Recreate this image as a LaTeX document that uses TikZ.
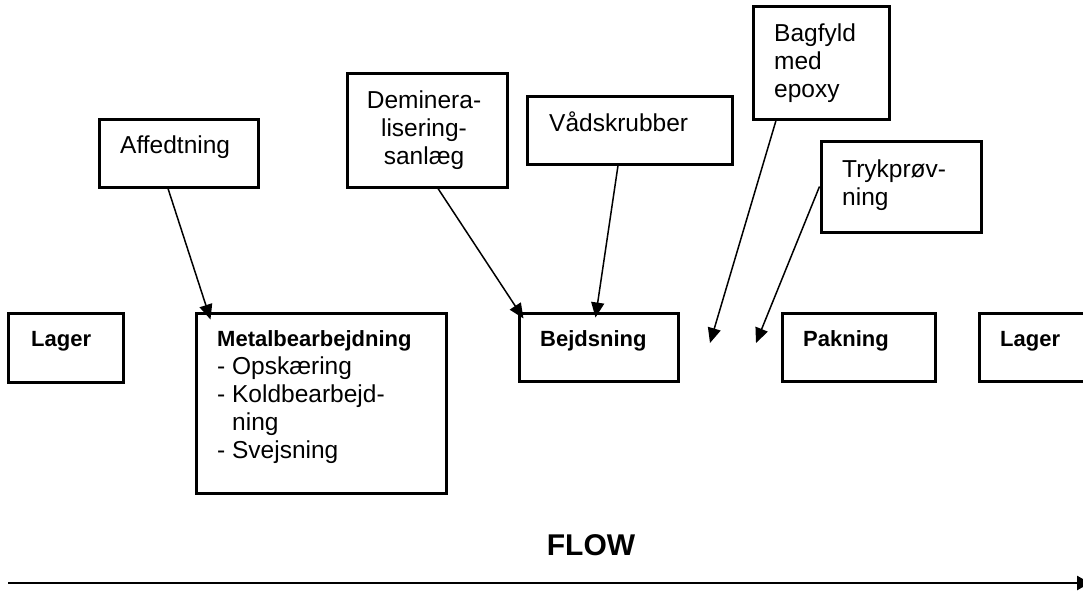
\documentclass[tikz,border=0pt]{standalone}
\usepackage{fontspec}
\setmainfont{Liberation Sans}
\usetikzlibrary{arrows.meta,calc}
\newcommand\tstrut{\rule{0pt}{20pt}}
\begin{document}
\begin{tikzpicture}[x=1pt,y=-1pt,
  box/.style={draw,line width=3pt,inner sep=0pt},
  txt/.style={inner sep=0pt,font=\fontsize{24.5}{28}\selectfont,align=left,anchor=north west},
  btxt/.style={inner sep=0pt,font=\fontsize{22}{28}\selectfont\bfseries,anchor=north west},
  conn/.style={line width=1.5pt,-{Triangle[length=15pt,width=13pt]}},
]
\useasboundingbox (0,0) rectangle (1083,592);
\clip (0,0) rectangle (1083,592);

% boxes
\node[box,minimum width=115pt,minimum height=69pt] (lagerA) at (65.5,347.5) {};
\node[box,minimum width=250pt,minimum height=180pt] (metal) at (321,403) {};
\node[box,minimum width=159pt,minimum height=68pt] (bejd) at (598.5,347) {};
\node[box,minimum width=153pt,minimum height=68pt] (pak) at (858.5,347) {};
\node[box,minimum width=121pt,minimum height=68pt] (lagerB) at (1039.5,347) {};
\node[box,minimum width=159pt,minimum height=68pt] (aff) at (178.5,153) {};
\node[box,minimum width=160pt,minimum height=114pt] (demin) at (427,130) {};
\node[box,minimum width=205pt,minimum height=68pt] (vad) at (629.5,130) {};
\node[box,minimum width=136pt,minimum height=113pt] (bag) at (821,62.5) {};
\node[box,minimum width=160pt,minimum height=91pt] (tryk) at (901,186.5) {};

% texts
\node[btxt] (tLagerA) at (31,326) {\tstrut Lager};
\node[txt] (tMetal) at (217,326) {\tstrut\textbf{\fontsize{22}{28}\selectfont Metalbearbejdning}\\- Opskæring\\- Koldbearbejd-\\\hspace*{15pt}ning\\- Svejsning};
\node[btxt] (tBejd) at (540,326) {\tstrut Bejdsning};
\node[btxt] (tPak) at (803,326) {\tstrut Pakning};
\node[btxt] (tLagerB) at (1000,326) {\tstrut Lager};
\node[txt] (tAff) at (120,133) {\tstrut Affedtning};
\node[txt,align=center,anchor=north] (tDemin) at (424,88) {\tstrut Deminera-\\lisering-\\sanlæg};
\node[txt] (tVad) at (549,111) {\tstrut Vådskrubber};
\node[txt] (tBag) at (774,21) {\tstrut Bagfyld\\med\\epoxy};
\node[txt] (tTryk) at (842,157) {\tstrut Trykprøv-\\ning};
\node[inner sep=0pt,font=\fontsize{30}{36}\selectfont\bfseries,anchor=base] (flow) at (591,555) {FLOW};

% connectors
\draw[conn] ([xshift=-10.5pt]aff.south) -- ([xshift=16pt,yshift=-8pt]metal.north west);
\draw[conn] ([xshift=11pt]demin.south) -- ([xshift=6pt,yshift=-7pt]bejd.north west);
\draw[conn] ([xshift=-11.5pt]vad.south) -- ([xshift=78pt,yshift=-6pt]bejd.north west);
\coordinate (bagEnd) at (710,343);
\coordinate (trykEnd) at (756,343);
\draw[conn] ([xshift=-45pt]bag.south) -- (bagEnd);
\draw[conn] (tryk.west) -- (trykEnd);

% flow arrow
\coordinate (flowL) at (8,583);
\coordinate (flowR) at (1090,583);
\draw[line width=2.7pt,-{Triangle[length=13pt,width=14pt]}] (flowL) -- (flowR);
\end{tikzpicture}
\end{document}
